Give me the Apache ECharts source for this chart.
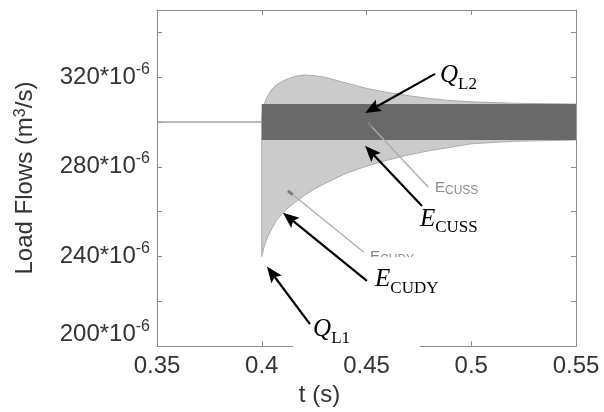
<!DOCTYPE html>
<html>
<head>
<meta charset="utf-8">
<script src="https://cdn.jsdelivr.net/npm/echarts@6/dist/echarts.min.js"></script>
<style>
    html, body {margin: 0; padding: 0; background: #fff;}
    #main {width: 604px; height: 412px;}
</style>
</head>
<body>
<div id="main"></div>
<script>
// 时间 (s) 与流量 (x10^-6 m3/s)
var tEnv = [0.4, 0.4005, 0.401, 0.402, 0.403, 0.405, 0.407, 0.41, 0.413, 0.416, 0.42, 0.425, 0.43, 0.44, 0.45, 0.46, 0.47, 0.48, 0.49, 0.5, 0.52, 0.55];
var qUpper = [303, 305.5, 307.5, 310, 312, 314.8, 316.6, 318.3, 319.5, 320.4, 321, 320.7, 320, 317.5, 315, 313.2, 311.8, 310.5, 309.6, 309, 308.4, 308];
var qLower = [240, 242, 244, 246.8, 249, 252.8, 256, 259.5, 262, 264.3, 267, 270, 272.5, 277, 280.3, 283, 285.3, 287.2, 288.7, 290.3, 291.4, 292];
var tInit = [0.35, 0.4];
var qInit = [300, 300];
var bandT = [0.4, 0.55];
var bandLow = [292, 292];
var bandHigh = [308, 308];
var yTickLabels = [200, 240, 280, 320];

// 标注 (数据坐标)
var arrowFrom = [[0.4827, 321.5], [0.4765, 262.5], [0.4502, 229.1], [0.4230, 209.8]];
var arrowTo = [[0.4493, 304.0], [0.4493, 289.4], [0.4101, 259.5], [0.4025, 235.5]];
var labelAt = [[0.4851, 319.8], [0.4755, 255.6], [0.4541, 228.7], [0.4245, 206.4]];
var labelMain = ['Q', 'E', 'E', 'Q'];
var labelSub = ['L2', 'CUSS', 'CUDY', 'L1'];
var noteFrom = [[0.4507, 299.7], [0.4125, 269.3]];
var noteTo = [[0.4794, 271.0], [0.4488, 241.9]];
var noteAt = [[0.4827, 273.8], [0.4517, 243.0]];
var noteSub = ['CUSS', 'CUDY'];
// 白色遮挡框 [t1, q1, t2, q2]
var maskBoxes = [[0.4149, 239.8, 0.4755, 197.0], [0.4794, 267.6, 0.5140, 261.2]];

var SANS = 'Liberation Sans';
var SERIF = 'Liberation Serif';
var AXIS_GRAY = '#8a8a8a';
var TEXT = '#333';

var chart = echarts.init(document.getElementById('main'));

function frameAxis(pos, isX) {
    var a = {
        type: 'value',
        position: pos,
        axisLine: {show: true, onZero: false, lineStyle: {color: AXIS_GRAY, width: 1}},
        axisTick: {show: true, inside: true, length: 5, lineStyle: {color: AXIS_GRAY}},
        splitLine: {show: false},
        axisLabel: {show: false}
    };
    if (isX) {
        a.min = 0.35; a.max = 0.55; a.interval = 0.05;
    } else {
        a.min = 200; a.max = 350; a.interval = 20;
    }
    return a;
}

var xMain = frameAxis('bottom', true);
xMain.axisLabel = {
    show: true, margin: 8, fontFamily: SANS, fontSize: 24, color: TEXT,
    formatter: function (v) { return String(+v.toFixed(2)); }
};
xMain.name = 't (s)';
xMain.nameLocation = 'middle';
xMain.nameGap = 22;
xMain.nameTextStyle = {fontFamily: SANS, fontSize: 24, color: TEXT, padding: [0, 94, 0, 0]};

var yMain = frameAxis('left', false);
yMain.axisLabel = {
    show: true, margin: 7,
    formatter: function (v) {
        var k = Math.round(v);
        if (yTickLabels.indexOf(k) == -1) return '';
        if (k == 200) return '{c|' + k + '*10}{d|-6}';
        return '{a|' + k + '*10}{b|-6}';
    },
    rich: {
        a: {fontFamily: SANS, fontSize: 24, lineHeight: 24, color: TEXT, verticalAlign: 'bottom', padding: [14, 0, 0, 0]},
        b: {fontFamily: SANS, fontSize: 16, lineHeight: 16, color: TEXT, verticalAlign: 'bottom', padding: [0, 0, 12, 0]},
        c: {fontFamily: SANS, fontSize: 24, lineHeight: 24, color: TEXT, verticalAlign: 'bottom', padding: [0, 0, 12, 0]},
        d: {fontFamily: SANS, fontSize: 16, lineHeight: 16, color: TEXT, verticalAlign: 'bottom', padding: [0, 0, 24, 0]}
    }
};
yMain.name = '{a|Load Flows (m}{b|3}{a|/s)}';
yMain.nameLocation = 'middle';
yMain.nameGap = 120;
yMain.nameTextStyle = {
    rich: {
        a: {fontFamily: SANS, fontSize: 24, lineHeight: 24, color: TEXT, verticalAlign: 'bottom', padding: [5, 0, 0, 0]},
        b: {fontFamily: SANS, fontSize: 16, lineHeight: 16, color: TEXT, verticalAlign: 'top'}
    }
};

var option = {
    animation: false,
    backgroundColor: '#fff',
    grid: {left: 157, right: 28, top: 10, bottom: 51, containLabel: false},
    xAxis: [xMain, frameAxis('top', true)],
    yAxis: [yMain, frameAxis('right', false)],
    series: [
        {
            // 包络区域: 上边界 + 反向下边界
            type: 'custom', z: 2,
            data: [[tEnv[0], qLower[0]]],
            renderItem: function (params, api) {
                var pts = [];
                for (var i = 0; i < tEnv.length; i++) pts.push(api.coord([tEnv[i], qUpper[i]]));
                for (var j = tEnv.length - 1; j >= 0; j--) pts.push(api.coord([tEnv[j], qLower[j]]));
                return {type: 'polygon', shape: {points: pts},
                    style: {fill: '#cbcbcb', stroke: '#ababab', lineWidth: 1}};
            }
        },
        {
            // 深色带
            type: 'custom', z: 3,
            data: [[bandT[0], bandLow[0]]],
            renderItem: function (params, api) {
                var pts = [];
                for (var i = 0; i < bandT.length; i++) pts.push(api.coord([bandT[i], bandHigh[i]]));
                for (var j = bandT.length - 1; j >= 0; j--) pts.push(api.coord([bandT[j], bandLow[j]]));
                return {type: 'polygon', shape: {points: pts}, style: {fill: '#696969'}};
            }
        },
        {
            type: 'line', data: [[tInit[0], qInit[0]], [tInit[1], qInit[1]]], symbol: 'none', z: 3,
            lineStyle: {color: '#a0a0a0', width: 1.5}
        }
    ]
};
chart.setOption(option);

function px(p) {
    return chart.convertToPixel({xAxisIndex: 0, yAxisIndex: 0}, p);
}

var gfx = [];
// 灰色引线和小标签
for (var i = 0; i < noteFrom.length; i++) {
    var a = px(noteFrom[i]), b = px(noteTo[i]);
    gfx.push({type: 'line', z: 5, shape: {x1: a[0], y1: a[1], x2: b[0], y2: b[1]},
        style: {stroke: '#ababab', lineWidth: 1.3}});
    var dx = b[0] - a[0], dy = b[1] - a[1], len = Math.sqrt(dx * dx + dy * dy);
    gfx.push({type: 'line', z: 5, shape: {x1: a[0], y1: a[1], x2: a[0] + dx / len * 6, y2: a[1] + dy / len * 6},
        style: {stroke: '#7a7a7a', lineWidth: 3}});
    var n = px(noteAt[i]);
    gfx.push({type: 'text', z: 5, x: n[0], y: n[1], style: {
        text: '{e|E}{s|' + noteSub[i] + '}', align: 'left', verticalAlign: 'top',
        rich: {
            e: {fontFamily: SANS, fontSize: 15, lineHeight: 16, fill: '#888', verticalAlign: 'top'},
            s: {fontFamily: SANS, fontSize: 12, lineHeight: 12, fill: '#888', verticalAlign: 'bottom'}
        }
    }});
}
// 白色遮挡
for (var i = 0; i < maskBoxes.length; i++) {
    var p1 = px([maskBoxes[i][0], maskBoxes[i][1]]), p2 = px([maskBoxes[i][2], maskBoxes[i][3]]);
    gfx.push({type: 'rect', z: 6, shape: {x: p1[0], y: p1[1], width: p2[0] - p1[0], height: p2[1] - p1[1]},
        style: {fill: '#fff'}});
}
// 黑色箭头和标签
for (var i = 0; i < arrowFrom.length; i++) {
    var a = px(arrowFrom[i]), b = px(arrowTo[i]);
    var dx = b[0] - a[0], dy = b[1] - a[1], len = Math.sqrt(dx * dx + dy * dy);
    var ux = dx / len, uy = dy / len, nx = -uy, ny = ux;
    var L = 16, W = 6.5, N = 3;
    var bx = b[0] - ux * L, by = b[1] - uy * L;
    var cx = b[0] - ux * (L - N), cy = b[1] - uy * (L - N);
    gfx.push({type: 'line', z: 7, shape: {x1: a[0], y1: a[1], x2: cx, y2: cy},
        style: {stroke: '#000', lineWidth: 2.2}});
    gfx.push({type: 'polygon', z: 7, shape: {points: [[b[0], b[1]], [bx + nx * W, by + ny * W], [cx, cy], [bx - nx * W, by - ny * W]]},
        style: {fill: '#000'}});
    var t = px(labelAt[i]);
    gfx.push({type: 'text', z: 7, x: t[0], y: t[1], style: {
        text: '{i|' + labelMain[i] + '}{s|' + labelSub[i] + '}', align: 'left', verticalAlign: 'middle',
        rich: {
            i: {fontFamily: SERIF, fontStyle: 'italic', fontSize: 25, lineHeight: 30, fill: '#000', verticalAlign: 'top'},
            s: {fontFamily: SERIF, fontSize: 17, lineHeight: 17, fill: '#000', verticalAlign: 'bottom'}
        }
    }});
}
chart.setOption({graphic: {elements: gfx}});
</script>
</body>
</html>
